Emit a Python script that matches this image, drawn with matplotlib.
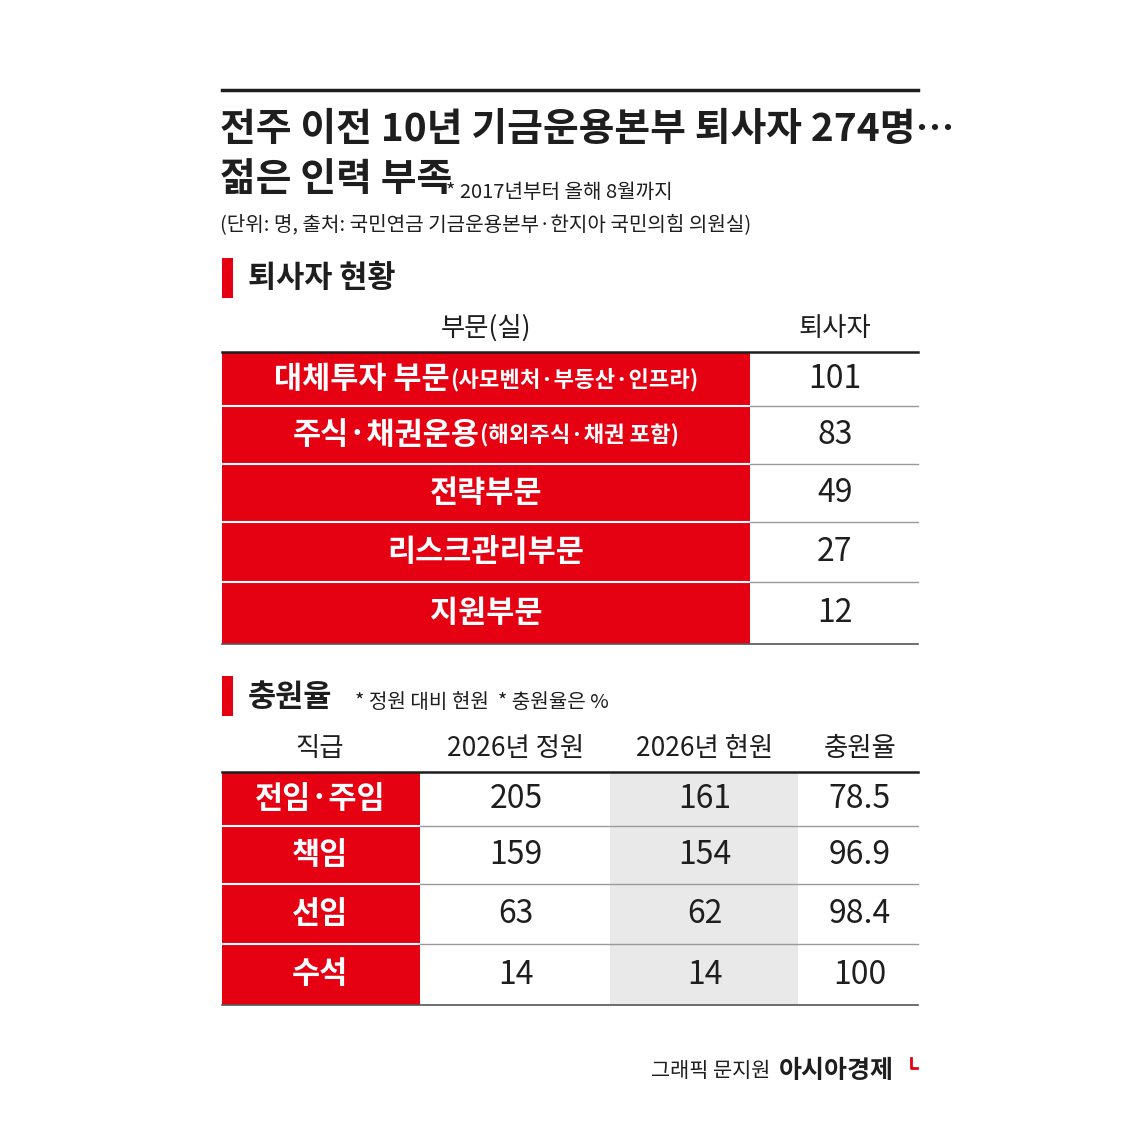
import matplotlib
matplotlib.use("Agg")
import matplotlib.pyplot as plt
from matplotlib.patches import Rectangle

plt.rcParams['font.family'] = ['Noto Sans CJK KR', 'DejaVu Sans']

title1 = "전주 이전 10년 기금운용본부 퇴사자 274명…"
title2 = "젊은 인력 부족"
title_note = "* 2017년부터 올해 8월까지"
unit_note = "(단위: 명, 출처: 국민연금 기금운용본부·한지아 국민의힘 의원실)"

sec1 = "퇴사자 현황"
sec1_headers = ["부문(실)", "퇴사자"]
dept_main = ["대체투자 부문", "주식·채권운용", "전략부문", "리스크관리부문", "지원부문"]
dept_sub = ["(사모벤처·부동산·인프라)", "(해외주식·채권 포함)", "", "", ""]
leavers = [101, 83, 49, 27, 12]

sec2 = "충원율"
sec2_note = "* 정원 대비 현원  * 충원율은 %"
sec2_headers = ["직급", "2026년 정원", "2026년 현원", "충원율"]
ranks = ["전임·주임", "책임", "선임", "수석"]
quota = [205, 159, 63, 14]
current = [161, 154, 62, 14]
rate = ["78.5", "96.9", "98.4", "100"]

credit = "그래픽 문지원"
brand = "아시아경제"

RED = "#e50012"
DARK = "#1e1e1e"
GRAY = "#e8e9e8"

fig = plt.figure(figsize=(11.37, 11.36), dpi=100)
ax = fig.add_axes([0, 0, 1, 1])
ax.set_xlim(0, 1137); ax.set_ylim(1136, 0); ax.axis('off')
r = fig.canvas.get_renderer()

def width(s, size, weight):
    t = ax.text(0, 0, s, fontsize=size, fontweight=weight)
    w = t.get_window_extent(renderer=r).width
    t.remove()
    return w

L, R = 222, 918
ax.plot([L, R], [90, 90], color=DARK, lw=2.5)
ax.text(L - 2, 130, title1, fontsize=28, fontweight='bold', color=DARK, va='center')
ax.text(L - 2, 180, title2, fontsize=28, fontweight='bold', color=DARK, va='center')
ax.text(446, 193, title_note, fontsize=14.5, color=DARK, va='center')
ax.text(L - 2, 226, unit_note, fontsize=14.5, color=DARK, va='center')

# Section 1
ax.add_patch(Rectangle((L, 258), 11, 40, color=RED, lw=0))
ax.text(248, 278, sec1, fontsize=22, fontweight='bold', color=DARK, va='center')
ax.text(486, 328, sec1_headers[0], fontsize=19, color=DARK, ha='center', va='center')
ax.text(835, 328, sec1_headers[1], fontsize=19, color=DARK, ha='center', va='center')
bounds1 = [352, 406, 464, 522, 582, 644]
for i in range(len(dept_main)):
    y0, y1 = bounds1[i], bounds1[i + 1]
    ax.add_patch(Rectangle((L, y0), 750 - L, y1 - y0, color=RED, lw=0))
    yc = (y0 + y1) / 2
    w1 = width(dept_main[i], 22, 'bold')
    w2 = width(dept_sub[i], 16, 'bold') if dept_sub[i] else 0
    x0 = 486 - (w1 + w2) * 72 / 100 / 2 * 100 / 72
    ax.text(x0, yc, dept_main[i], fontsize=22, fontweight='bold', color='white', va='center')
    if dept_sub[i]:
        ax.text(x0 + w1, yc + 1, dept_sub[i], fontsize=16, fontweight='bold', color='white', va='center')
    ax.text(835, yc, str(leavers[i]), fontsize=23, color=DARK, ha='center', va='center')
    if i > 0:
        ax.plot([L, 750], [y0, y0], color='white', lw=1.5)
        ax.plot([750, R], [y0, y0], color='#999999', lw=1)
ax.plot([L, R], [352, 352], color=DARK, lw=1.8)
ax.plot([L, R], [644, 644], color='#555555', lw=1.2)

# Section 2
ax.add_patch(Rectangle((L, 676), 11, 40, color=RED, lw=0))
ax.text(248, 697, sec2, fontsize=22, fontweight='bold', color=DARK, va='center')
ax.text(355, 702, sec2_note, fontsize=14.5, color=DARK, va='center')
hx = [320, 516, 705, 860]
for x, h in zip(hx, sec2_headers):
    ax.text(x, 748, h, fontsize=19, color=DARK, ha='center', va='center')
bounds2 = [772, 826, 884, 944, 1005]
ax.add_patch(Rectangle((610, 772), 188, 1005 - 772, color=GRAY, lw=0))
for i in range(len(ranks)):
    y0, y1 = bounds2[i], bounds2[i + 1]
    yc = (y0 + y1) / 2
    ax.add_patch(Rectangle((L, y0), 420 - L, y1 - y0, color=RED, lw=0))
    ax.text(320, yc, ranks[i], fontsize=22, fontweight='bold', color='white', ha='center', va='center')
    ax.text(516, yc, str(quota[i]), fontsize=23, color=DARK, ha='center', va='center')
    ax.text(705, yc, str(current[i]), fontsize=23, color=DARK, ha='center', va='center')
    ax.text(860, yc, rate[i], fontsize=23, color=DARK, ha='center', va='center')
    if i > 0:
        ax.plot([L, 420], [y0, y0], color='white', lw=1.5)
        ax.plot([420, R], [y0, y0], color='#999999', lw=1)
ax.plot([L, R], [772, 772], color=DARK, lw=1.8)
ax.plot([L, R], [1005, 1005], color='#555555', lw=1.2)

# Footer
ax.text(770, 1071, credit, fontsize=15, color=DARK, ha='right', va='center')
ax.text(779, 1071, brand, fontsize=18, fontweight='bold', color=DARK, ha='left', va='center')
ax.plot([911, 911, 917], [1058, 1068, 1068], color=RED, lw=2)

fig.savefig("out.png", dpi=100, facecolor='white')
